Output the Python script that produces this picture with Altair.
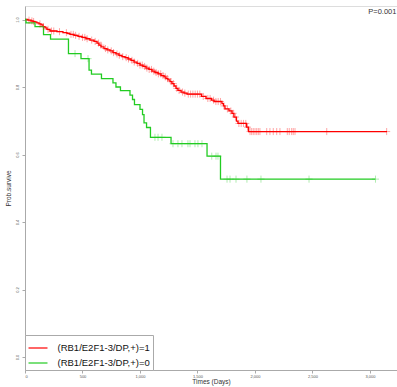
import altair as alt
import pandas as pd
import numpy as np

# ---- data ----
red_label = "(RB1/E2F1-3/DP,+)=1"
green_label = "(RB1/E2F1-3/DP,+)=0"

red_times = [0, 26, 52, 70, 87, 104, 122, 139, 157, 174, 191, 217, 278, 330, 365, 391, 426, 461,
             496, 530, 565, 600, 626, 643, 661, 687, 713, 739, 765, 791, 817, 843, 870, 896, 922,
             948, 974, 1000, 1026, 1052, 1078, 1104, 1130, 1157, 1183, 1209, 1226, 1243, 1261,
             1278, 1296, 1313, 1330, 1357, 1383, 1409, 1535, 1574, 1622, 1644, 1713, 1726, 1739,
             1774, 1800, 1817, 1839, 1852, 1926, 1944, 3148]
red_surv = [1.0, 0.998, 0.996, 0.994, 0.992, 0.990, 0.987, 0.984, 0.979, 0.975, 0.971, 0.966,
            0.964, 0.961, 0.959, 0.956, 0.953, 0.950, 0.947, 0.943, 0.939, 0.935, 0.930, 0.924,
            0.919, 0.914, 0.910, 0.907, 0.902, 0.898, 0.894, 0.890, 0.887, 0.883, 0.879, 0.874,
            0.870, 0.865, 0.861, 0.856, 0.852, 0.847, 0.843, 0.839, 0.834, 0.830, 0.825, 0.821,
            0.816, 0.810, 0.803, 0.796, 0.790, 0.785, 0.782, 0.779, 0.772, 0.766, 0.761, 0.757,
            0.751, 0.744, 0.735, 0.729, 0.722, 0.711, 0.699, 0.692, 0.681, 0.668, 0.668]
red_censor = [35, 60, 75, 130, 160, 200, 230, 250, 300, 360, 400, 420, 440, 470, 500, 520, 540,
              580, 610, 640, 660, 700, 720, 750, 770, 800, 820, 850, 880, 900, 930, 950, 980,
              1000, 1020, 1040, 1060, 1080, 1100, 1120, 1140, 1160, 1180, 1200, 1220, 1240, 1270,
              1290, 1320, 1340, 1370, 1390, 1420, 1440, 1460, 1480, 1500, 1520, 1550, 1590, 1610,
              1640, 1660, 1680, 1700, 1730, 1760, 1790, 1810, 1830, 1860, 1880, 1900, 1920, 1935,
              1957, 1971, 1985, 2000, 2015, 2029, 2043, 2102, 2130, 2159, 2189, 2217, 2281, 2298,
              2319, 2333, 2348, 2624, 3145]

green_times = [0, 9, 87, 161, 222, 378, 487, 557, 578, 665, 765, 791, 830, 913, 935, 952, 1000,
               1022, 1035, 1057, 1091, 1270, 1583, 1700, 3048]
green_surv = [1.0, 0.990, 0.979, 0.955, 0.942, 0.899, 0.884, 0.850, 0.838, 0.825, 0.812, 0.800,
              0.789, 0.776, 0.763, 0.748, 0.734, 0.718, 0.694, 0.680, 0.651, 0.632, 0.595, 0.527,
              0.527]
green_censor = [435, 548, 1130, 1157, 1191, 1287, 1330, 1365, 1417, 1435, 1478, 1504, 1539,
                1624, 1661, 1678, 1757, 1783, 1835, 1930, 2052, 2470, 3048]

x_ticks = [0, 500, 1000, 1500, 2000, 2500, 3000]
y_ticks = [0.0, 0.2, 0.4, 0.6, 0.8, 1.0]
p_text = "P=0.001"


def step_lookup(times, surv, t):
    idx = np.searchsorted(np.array(times), t, side="right") - 1
    return float(np.array(surv)[max(idx, 0)])


lines = pd.DataFrame({
    "time": red_times + green_times,
    "surv": red_surv + green_surv,
    "group": [red_label] * len(red_times) + [green_label] * len(green_times),
})
red_c = pd.DataFrame({"time": red_censor,
                      "surv": [step_lookup(red_times, red_surv, t) for t in red_censor]})
green_c = pd.DataFrame({"time": green_censor,
                        "surv": [step_lookup(green_times, green_surv, t) for t in green_censor]})

RED = "#ff0000"
GREEN = "#22cc22"
FONT = "Liberation Sans"

xscale = alt.Scale(domain=[0, 3235], nice=False, zero=False)
yscale = alt.Scale(domain=[-0.0385, 1.04], nice=False, zero=False)

xaxis = alt.Axis(values=x_ticks, title="Times (Days)", labelFontSize=4, tickSize=3,
                 labelPadding=1, titleFontSize=6.5, titlePadding=0, grid=False,
                 domainColor="#aaaaaa", tickColor="#aaaaaa", labelColor="#555555",
                 titleColor="#333333", titleFontWeight="normal")
yaxis = alt.Axis(values=y_ticks, format=".1f", title="Prob.survive", labelFontSize=4,
                 tickSize=3, labelAngle=270, labelAlign="center", labelBaseline="bottom",
                 labelPadding=3, titleFontSize=6.5, titlePadding=4, grid=False,
                 domainColor="#aaaaaa", tickColor="#aaaaaa", labelColor="#555555",
                 titleColor="#333333", titleFontWeight="normal")

line_layer = alt.Chart(lines).mark_line(interpolate="step-after", strokeWidth=1.3).encode(
    x=alt.X("time:Q", scale=xscale, axis=xaxis),
    y=alt.Y("surv:Q", scale=yscale, axis=yaxis),
    color=alt.Color("group:N",
                    scale=alt.Scale(domain=[red_label, green_label], range=[RED, GREEN]),
                    sort=[red_label, green_label],
                    legend=alt.Legend(title=None, orient="bottom-left", offset=0,
                                      symbolType="stroke", symbolSize=360,
                                      symbolStrokeWidth=1.2, labelFontSize=9.5,
                                      labelOffset=9, padding=2.5, rowPadding=0,
                                      fillColor="white", strokeColor="#aaaaaa",
                                      labelColor="#111111", labelFont=FONT)),
)

cross = "M-1,0L1,0M0,-1L0,1"
red_pts = alt.Chart(red_c).mark_point(shape=cross, size=50, strokeWidth=1, opacity=0.35,
                                       color=RED).encode(
    x=alt.X("time:Q", scale=xscale), y=alt.Y("surv:Q", scale=yscale))
green_pts = alt.Chart(green_c).mark_point(shape=cross, size=50, strokeWidth=1, opacity=0.35,
                                           color=GREEN).encode(
    x=alt.X("time:Q", scale=xscale), y=alt.Y("surv:Q", scale=yscale))

ptext = alt.Chart(pd.DataFrame({"t": [p_text], "x": [3230], "y": [1.022]})).mark_text(
    align="right", baseline="middle", fontSize=7.5, color="#333333", font=FONT).encode(
    x=alt.X("x:Q", scale=xscale), y=alt.Y("y:Q", scale=yscale), text="t:N")

chart = alt.layer(line_layer, red_pts, green_pts, ptext).properties(
    width=372, height=364,
    autosize=alt.AutoSizeParams(type="none"),
    padding={"left": 25, "top": 6, "right": 0, "bottom": 17},
).configure_view(stroke="#bbbbbb", strokeWidth=1).configure(font=FONT)

chart.save("out.html", embed_options={"renderer": "svg", "actions": False})
